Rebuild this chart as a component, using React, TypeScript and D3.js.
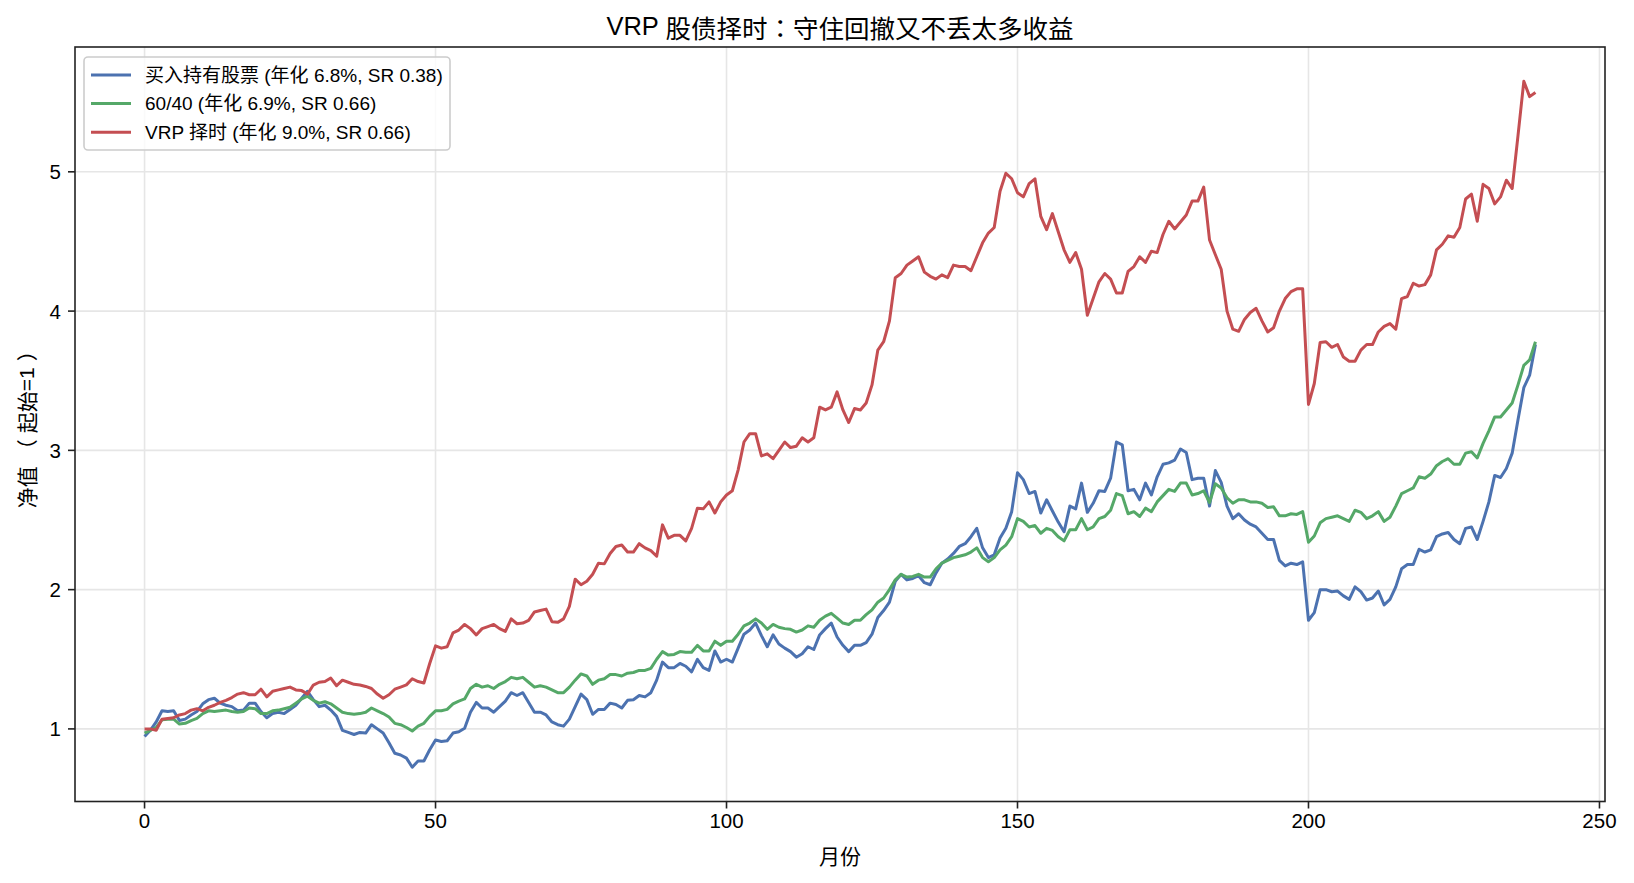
import React from "react";
import * as d3 from "d3";

const TITLE = "VRP 股债择时：守住回撤又不丢太多收益";
const X_LABEL = "月份";
const Y_LABEL = "净值（起始=1）";
const X_TICKS = [0, 50, 100, 150, 200, 250];
const Y_TICKS = [1, 2, 3, 4, 5];

const SERIES_NAMES = [
  "买入持有股票 (年化 6.8%, SR 0.38)",
  "60/40 (年化 6.9%, SR 0.66)",
  "VRP 择时 (年化 9.0%, SR 0.66)",
];
const SERIES_COLORS = ["#4C72B0", "#55A868", "#C44E52"];

const buyHold = [
  0.945, 0.99, 1.05, 1.13, 1.125, 1.13, 1.06, 1.07, 1.10, 1.125,
  1.18, 1.21, 1.22, 1.185, 1.17, 1.16, 1.13, 1.135, 1.185, 1.185,
  1.125, 1.08, 1.11, 1.12, 1.11, 1.14, 1.17, 1.22, 1.27, 1.21,
  1.16, 1.17, 1.135, 1.09, 0.99, 0.975, 0.96, 0.975, 0.97, 1.03,
  1.00, 0.97, 0.90, 0.825, 0.813, 0.79, 0.725, 0.77, 0.77, 0.85,
  0.92, 0.91, 0.915, 0.97, 0.98, 1.005, 1.12, 1.19, 1.15, 1.15,
  1.12, 1.16, 1.20, 1.26, 1.24, 1.26, 1.19, 1.12, 1.12, 1.10,
  1.05, 1.03, 1.02, 1.07, 1.16, 1.25, 1.21, 1.105, 1.14, 1.14,
  1.185, 1.175, 1.15, 1.205, 1.21, 1.24, 1.23, 1.26, 1.35, 1.48,
  1.44, 1.44, 1.47, 1.45, 1.41, 1.50, 1.44, 1.42, 1.56, 1.48,
  1.50, 1.48, 1.58, 1.68, 1.71, 1.76, 1.67, 1.59, 1.675, 1.61,
  1.58, 1.555, 1.515, 1.54, 1.59, 1.57, 1.675, 1.72, 1.76, 1.66,
  1.60, 1.555, 1.60, 1.60, 1.62, 1.68, 1.80, 1.85, 1.91, 2.06,
  2.11, 2.07, 2.08, 2.10, 2.05, 2.035, 2.12, 2.19, 2.22, 2.26,
  2.31, 2.33, 2.38, 2.44, 2.30, 2.23, 2.25, 2.37, 2.44, 2.56,
  2.84, 2.79, 2.69, 2.705, 2.55, 2.645, 2.565, 2.485, 2.415, 2.60,
  2.58, 2.765, 2.555, 2.62, 2.71, 2.705, 2.80, 3.06, 3.04, 2.71,
  2.72, 2.645, 2.765, 2.68, 2.81, 2.90, 2.91, 2.93, 3.01, 2.985,
  2.79, 2.80, 2.80, 2.60, 2.855, 2.77, 2.60, 2.51, 2.545, 2.50,
  2.47, 2.45, 2.405, 2.36, 2.36, 2.21, 2.17, 2.19, 2.18, 2.20,
  1.78, 1.835, 2.00, 2.00, 1.985, 1.99, 1.955, 1.93, 2.02, 1.985,
  1.925, 1.94, 1.99, 1.89, 1.93, 2.02, 2.15, 2.18, 2.18, 2.29,
  2.27, 2.285, 2.38, 2.40, 2.41, 2.36, 2.33, 2.44, 2.45, 2.36,
  2.49, 2.63, 2.82, 2.805, 2.87, 2.98, 3.22, 3.45, 3.54, 3.76,
];

const sixtyForty = [
  0.97, 0.99, 1.01, 1.065, 1.07, 1.07, 1.035, 1.04, 1.06, 1.075,
  1.11, 1.13, 1.125, 1.13, 1.135, 1.125, 1.12, 1.125, 1.15, 1.145,
  1.11, 1.11, 1.13, 1.135, 1.145, 1.155, 1.185, 1.215, 1.235, 1.205,
  1.185, 1.195, 1.18, 1.15, 1.12, 1.11, 1.105, 1.11, 1.12, 1.15,
  1.13, 1.11, 1.085, 1.04, 1.03, 1.01, 0.985, 1.02, 1.04, 1.09,
  1.13, 1.13, 1.14, 1.18, 1.20, 1.215, 1.29, 1.32, 1.30, 1.31,
  1.29, 1.32, 1.34, 1.37, 1.36, 1.37, 1.335, 1.30, 1.31, 1.30,
  1.28, 1.26, 1.26, 1.30, 1.35, 1.395, 1.38, 1.32, 1.35, 1.36,
  1.39, 1.39, 1.38, 1.40, 1.405, 1.42, 1.42, 1.435, 1.50, 1.555,
  1.53, 1.535, 1.555, 1.55, 1.55, 1.60, 1.56, 1.56, 1.63, 1.60,
  1.63, 1.63, 1.68, 1.74, 1.76, 1.79, 1.76, 1.715, 1.75, 1.73,
  1.72, 1.715, 1.695, 1.71, 1.74, 1.73, 1.78, 1.81, 1.83, 1.795,
  1.76, 1.75, 1.78, 1.78, 1.82, 1.855, 1.91, 1.94, 2.00, 2.07,
  2.11, 2.09, 2.095, 2.11, 2.09, 2.09, 2.15, 2.19, 2.21, 2.23,
  2.24, 2.25, 2.27, 2.30, 2.23, 2.20, 2.23, 2.285, 2.32, 2.38,
  2.51, 2.49, 2.45, 2.46, 2.405, 2.44, 2.425, 2.38, 2.35, 2.43,
  2.43, 2.51, 2.43, 2.45, 2.51, 2.525, 2.57, 2.69, 2.675, 2.545,
  2.56, 2.525, 2.585, 2.56, 2.63, 2.675, 2.72, 2.705, 2.765, 2.765,
  2.68, 2.69, 2.71, 2.625, 2.76, 2.73, 2.66, 2.62, 2.645, 2.645,
  2.63, 2.63, 2.62, 2.59, 2.595, 2.53, 2.53, 2.545, 2.54, 2.56,
  2.34, 2.385, 2.48, 2.51, 2.52, 2.53, 2.51, 2.49, 2.57, 2.555,
  2.51, 2.53, 2.56, 2.49, 2.52, 2.60, 2.69, 2.71, 2.73, 2.81,
  2.80, 2.83, 2.89, 2.92, 2.94, 2.90, 2.90, 2.98, 2.99, 2.945,
  3.05, 3.14, 3.24, 3.24, 3.29, 3.34, 3.47, 3.61, 3.65, 3.78,
];

const vrpTiming = [
  1.0, 1.0, 0.99, 1.07, 1.075, 1.08, 1.10, 1.11, 1.135, 1.145,
  1.13, 1.155, 1.17, 1.19, 1.205, 1.225, 1.25, 1.26, 1.245, 1.245,
  1.285, 1.23, 1.27, 1.28, 1.29, 1.30, 1.28, 1.275, 1.25, 1.315,
  1.335, 1.34, 1.365, 1.31, 1.35, 1.335, 1.32, 1.315, 1.305, 1.29,
  1.25, 1.22, 1.245, 1.285, 1.30, 1.316, 1.36, 1.34, 1.33, 1.47,
  1.596, 1.58, 1.59, 1.69, 1.71, 1.75, 1.72, 1.675, 1.72, 1.735,
  1.75, 1.72, 1.70, 1.79, 1.755, 1.76, 1.78, 1.84, 1.85, 1.86,
  1.77, 1.765, 1.79, 1.88, 2.075, 2.035, 2.06, 2.11, 2.19, 2.185,
  2.26, 2.31, 2.32, 2.27, 2.27, 2.33, 2.30, 2.28, 2.24, 2.465,
  2.37, 2.39, 2.39, 2.35, 2.44, 2.585, 2.58, 2.63, 2.55, 2.63,
  2.68, 2.71, 2.86, 3.06, 3.12, 3.12, 2.96, 2.975, 2.94, 3.00,
  3.06, 3.02, 3.03, 3.09, 3.06, 3.09, 3.31, 3.29, 3.31, 3.42,
  3.29, 3.20, 3.30, 3.29, 3.34, 3.47, 3.72, 3.78, 3.93, 4.24,
  4.27, 4.33, 4.36, 4.39, 4.28, 4.25, 4.23, 4.26, 4.24, 4.33,
  4.32, 4.32, 4.29, 4.39, 4.49, 4.56, 4.60, 4.86, 4.99, 4.95,
  4.85, 4.82, 4.915, 4.95, 4.68, 4.585, 4.70, 4.57, 4.44, 4.35,
  4.42, 4.30, 3.97, 4.09, 4.21, 4.27, 4.23, 4.13, 4.13, 4.285,
  4.32, 4.39, 4.35, 4.43, 4.42, 4.55, 4.645, 4.59, 4.64, 4.69,
  4.79, 4.79, 4.89, 4.51, 4.405, 4.30, 4.00, 3.87, 3.855, 3.94,
  3.99, 4.02, 3.93, 3.85, 3.88, 4.00, 4.09, 4.14, 4.16, 4.16,
  3.33, 3.48, 3.775, 3.78, 3.74, 3.76, 3.67, 3.64, 3.64, 3.72,
  3.76, 3.76, 3.85, 3.89, 3.91, 3.87, 4.09, 4.105, 4.20, 4.18,
  4.19, 4.26, 4.44, 4.48, 4.54, 4.53, 4.60, 4.805, 4.84, 4.645,
  4.91, 4.88, 4.77, 4.82, 4.94, 4.88, 5.26, 5.65, 5.54, 5.57,
];

const months = buyHold.map((_, i) => i);
const FONT = "'Liberation Sans', Arial, 'Noto Sans CJK SC', sans-serif";
const CJK_FONT = "'Noto Sans CJK SC', sans-serif";
const PUNCT_FONT = "'Noto Sans CJK TC', 'Noto Sans CJK SC', sans-serif";

// Split text into runs: latin / CJK ideographs / full-width punctuation.
function runs(text: string, parenGap = 0) {
  const kind = (ch: string) =>
    /[\uff00-\uffef\u3000-\u303f]/.test(ch) ? 2 : /[\u3400-\u9fff]/.test(ch) ? 1 : 0;
  const out: { t: string; k: number }[] = [];
  for (const ch of text) {
    const k = kind(ch);
    if (out.length && out[out.length - 1].k === k) out[out.length - 1].t += ch;
    else out.push({ t: ch, k });
  }
  const isParen = (s: string) => /[（）]/.test(s);
  return out.map((r, i) => {
    const gap = parenGap && (isParen(r.t) || (i > 0 && isParen(out[i - 1].t))) ? parenGap : 0;
    return (
      <tspan key={i} dx={gap || undefined} fontFamily={r.k === 2 ? PUNCT_FONT : r.k === 1 ? CJK_FONT : FONT}>
        {r.t}
      </tspan>
    );
  });
}

export default function App() {
  const W = 1634;
  const H = 883;
  const L = 75, R = 1605, T = 47, B = 801.5;
  const series = [buyHold, sixtyForty, vrpTiming];
  const all = series.flat();
  const mn = d3.min(all) as number;
  const mx = d3.max(all) as number;
  const yPad = (mx - mn) * 0.05;
  const xMax = months[months.length - 1];
  const xPad = xMax * 0.05;
  const x = d3.scaleLinear().domain([-xPad, xMax + xPad]).range([L, R]);
  const y = d3.scaleLinear().domain([mn - yPad, mx + yPad]).range([B, T]);
  const line = d3
    .line<number>()
    .x((_, i) => x(months[i]))
    .y((d) => y(d));

  const gridColor = "#e6e6e6";
  const axisColor = "#222";
  const tickFont = 20.5;

  return (
    <svg
      width={W}
      height={H}
      viewBox={`0 0 ${W} ${H}`}
      style={{ position: "absolute", left: 0, top: 0, background: "#fff", fontFamily: FONT }}
    >
      <rect x={0} y={0} width={W} height={H} fill="#fff" />
      <text x={(L + R) / 2} y={26} textAnchor="middle" dominantBaseline="central" fontSize={25.5} fill="#000">
        {runs(TITLE)}
      </text>
      <defs>
        <clipPath id="plotClip">
          <rect x={L} y={T} width={R - L} height={B - T} />
        </clipPath>
      </defs>
      <g>
        {X_TICKS.map((t) => (
          <line key={"gx" + t} x1={x(t)} x2={x(t)} y1={T} y2={B} stroke={gridColor} strokeWidth={1.6} />
        ))}
        {Y_TICKS.map((t) => (
          <line key={"gy" + t} x1={L} x2={R} y1={y(t)} y2={y(t)} stroke={gridColor} strokeWidth={1.6} />
        ))}
      </g>
      <g clipPath="url(#plotClip)">
        {series.map((s, i) => (
          <path
            key={i}
            d={line(s) as string}
            fill="none"
            stroke={SERIES_COLORS[i]}
            strokeWidth={3}
            strokeLinejoin="round"
            strokeLinecap="butt"
          />
        ))}
      </g>
      <rect x={L} y={T} width={R - L} height={B - T} fill="none" stroke={axisColor} strokeWidth={1.6} />
      {X_TICKS.map((t) => (
        <g key={"xt" + t}>
          <line x1={x(t)} x2={x(t)} y1={B} y2={B + 7} stroke={axisColor} strokeWidth={1.6} />
          <text x={x(t)} y={B + 11} textAnchor="middle" dominantBaseline="hanging" fontSize={tickFont} fill="#000">
            {t}
          </text>
        </g>
      ))}
      {Y_TICKS.map((t) => (
        <g key={"yt" + t}>
          <line x1={L - 7} x2={L} y1={y(t)} y2={y(t)} stroke={axisColor} strokeWidth={1.6} />
          <text x={L - 14} y={y(t)} textAnchor="end" dominantBaseline="central" fontSize={tickFont} fill="#000">
            {t}
          </text>
        </g>
      ))}
      <text x={(L + R) / 2} y={855} textAnchor="middle" dominantBaseline="central" fontSize={21} fill="#000">
        {runs(X_LABEL)}
      </text>
      <text
        transform={`translate(26, ${(T + B) / 2}) rotate(-90)`}
        textAnchor="middle"
        dominantBaseline="central"
        fontSize={21}
        fill="#000"
      >
        {runs(Y_LABEL, 6)}
      </text>
      <g>
        <rect x={84} y={57} width={366} height={93} rx={4} ry={4} fill="#fff" fillOpacity={0.8} stroke="#cccccc" strokeWidth={1.6} />
        {SERIES_NAMES.map((name, i) => {
          const cy = 75 + i * 28.6;
          return (
            <g key={name}>
              <line x1={91} x2={131} y1={cy} y2={cy} stroke={SERIES_COLORS[i]} strokeWidth={3} />
              <text x={145} y={cy} dominantBaseline="central" fontSize={19} fill="#000">
                {name}
              </text>
            </g>
          );
        })}
      </g>
    </svg>
  );
}
